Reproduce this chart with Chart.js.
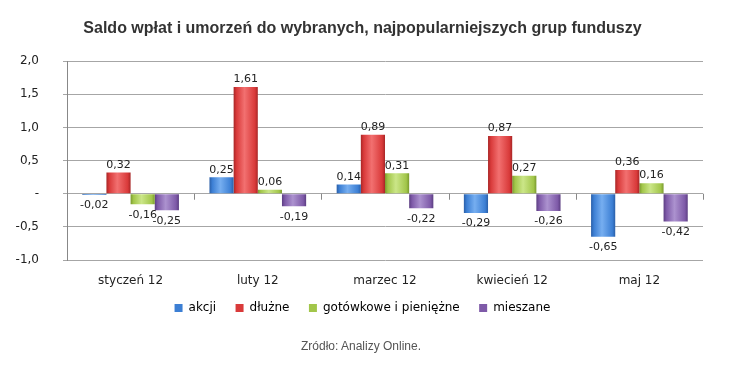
<!DOCTYPE html>
<html>
<head>
<meta charset="utf-8">
<script src="https://cdn.jsdelivr.net/npm/chart.js@4/dist/chart.umd.min.js"></script>
<style>
  html, body { margin: 0; padding: 0; background: #fff; }
  #wrap { position: relative; width: 730px; height: 384px; }
  #src {
    position: absolute; left: 0; width: 722px; top: 339px;
    text-align: center; font: 12px "Liberation Sans", Arial, sans-serif; color: #555;
  }
</style>
</head>
<body>
<div id="wrap">
  <canvas id="chart" width="730" height="384"></canvas>
  <div id="src">Zródło: Analizy Online.</div>
</div>
<script>
// dane z wykresu
const miesiace = ['styczeń 12', 'luty 12', 'marzec 12', 'kwiecień 12', 'maj 12'];
const akcji = [-0.02, 0.25, 0.14, -0.29, -0.65];
const dluzne = [0.32, 1.61, 0.89, 0.87, 0.36];
const gotowkowe = [-0.16, 0.06, 0.31, 0.27, 0.16];
const mieszane = [-0.25, -0.19, -0.22, -0.26, -0.42];
const yTicks = [-1.0, -0.5, 0, 0.5, 1.0, 1.5, 2.0];

// kolory: jasny, srodek, ciemny
const kolory = [
    ['#76aef0', '#3c7fd4', '#2a5fa8'],
    ['#f27070', '#d93a3a', '#a82626'],
    ['#cbe688', '#a2c64a', '#7a9a2e'],
    ['#ac92cf', '#7e5aa8', '#5c3e82']
];

const fmt = v => v.toFixed(2).replace('.', ',');

// gradient w poziomie, imitacja efektu z Excela
const cieniowanie = {
    id: 'cieniowanie',
    beforeDatasetsDraw(chart) {
        const c = chart.ctx;
        chart.data.datasets.forEach((ds, i) => {
            const [light, mid, dark] = kolory[i];
            chart.getDatasetMeta(i).data.forEach(bar => {
                const x0 = bar.x - bar.width / 2, x1 = bar.x + bar.width / 2;
                const g = c.createLinearGradient(x0, 0, x1, 0);
                g.addColorStop(0, dark);
                g.addColorStop(0.12, mid);
                g.addColorStop(0.45, light);
                g.addColorStop(0.88, mid);
                g.addColorStop(1, dark);
                bar.options = Object.assign({}, bar.options, { backgroundColor: g });
            });
        });
    }
};

// tytul i legenda troche w prawo, jak w oryginale
const przesun = {
    id: 'przesun',
    afterLayout(chart) {
        chart.titleBlock.left += 22;
        chart.legend.left += 22;
    }
};

const etykiety = {
    id: 'etykiety',
    afterDatasetsDraw(chart) {
        const ctx = chart.ctx;
        ctx.save();
        ctx.font = '11px "DejaVu Sans", sans-serif';
        ctx.fillStyle = '#222';
        ctx.textAlign = 'center';
        chart.data.datasets.forEach((ds, i) => {
            chart.getDatasetMeta(i).data.forEach((bar, j) => {
                const v = ds.data[j];
                if (v >= 0) {
                    ctx.textBaseline = 'bottom';
                    ctx.fillText(fmt(v), bar.x, bar.y - 2);
                } else {
                    ctx.textBaseline = 'top';
                    ctx.fillText(fmt(v), bar.x, bar.y + 5);
                }
            });
        });
        ctx.restore();
    }
};

// krotkie kreski na osi zero miedzy kategoriami
const kreski = {
    id: 'kreski',
    afterDraw(chart) {
        const x = chart.scales.x, y = chart.scales.y;
        const y0 = y.getPixelForValue(0);
        const ctx = chart.ctx;
        const krok = x.getPixelForValue(1) - x.getPixelForValue(0);
        ctx.save();
        ctx.strokeStyle = '#888';
        ctx.lineWidth = 1;
        ctx.beginPath();
        for (let i = 0; i < miesiace.length; i++) {
            const xx = Math.round(x.getPixelForValue(i) + krok / 2) + 0.5;
            ctx.moveTo(xx, y0);
            ctx.lineTo(xx, y0 + 6);
        }
        ctx.stroke();
        ctx.restore();
    }
};

new Chart(document.getElementById('chart'), {
    type: 'bar',
    data: {
        labels: miesiace,
        datasets: [
            { label: 'akcji', data: akcji, backgroundColor: () => kolory[0][1] },
            { label: 'dłużne', data: dluzne, backgroundColor: () => kolory[1][1] },
            { label: 'gotówkowe i pieniężne', data: gotowkowe, backgroundColor: () => kolory[2][1] },
            { label: 'mieszane', data: mieszane, backgroundColor: () => kolory[3][1] }
        ]
    },
    options: {
        responsive: false,
        animation: false,
        layout: { padding: { left: 0, right: 27, top: 0, bottom: 60 } },
        datasets: { bar: { barPercentage: 1, categoryPercentage: 0.76 } },
        plugins: {
            title: {
                display: true,
                text: 'Saldo wpłat i umorzeń do wybranych, najpopularniejszych grup funduszy',
                font: { family: '"Liberation Sans", Arial, sans-serif', size: 16, weight: 'bold' },
                color: '#333',
                padding: { top: 19, bottom: 23 }
            },
            legend: {
                position: 'bottom',
                labels: {
                    boxWidth: 8, boxHeight: 8, padding: 8,
                    font: { family: '"DejaVu Sans", sans-serif', size: 12 },
                    color: '#222',
                    generateLabels(chart) {
                        const n = chart.data.datasets.length;
                        return chart.data.datasets.map((ds, i) => ({
                            text: i < n - 1 ? ds.label + '   ' : ds.label,
                            fillStyle: kolory[i][1], strokeStyle: kolory[i][1],
                            lineWidth: 0, datasetIndex: i, hidden: false
                        }));
                    }
                }
            },
            tooltip: { enabled: false }
        },
        scales: {
            x: {
                afterFit(s) { s.height = 34; },
                grid: { display: false, drawTicks: false },
                border: { display: false },
                ticks: { font: { family: '"DejaVu Sans", sans-serif', size: 12 }, color: '#222', padding: 14 }
            },
            y: {
                min: -1, max: 2,
                afterFit(s) { s.width = 67; },
                afterBuildTicks(s) { s.ticks = yTicks.map(v => ({ value: v })); },
                grid: { color: '#a6a6a6', tickLength: 4 },
                border: { display: true, color: '#888' },
                ticks: {
                    padding: 24,
                    font: { family: '"DejaVu Sans", sans-serif', size: 12 },
                    color: '#222',
                    callback: v => v === 0 ? '-' : v.toFixed(1).replace('.', ',')
                }
            }
        }
    },
    plugins: [cieniowanie, przesun, etykiety, kreski]
});
</script>
</body>
</html>
